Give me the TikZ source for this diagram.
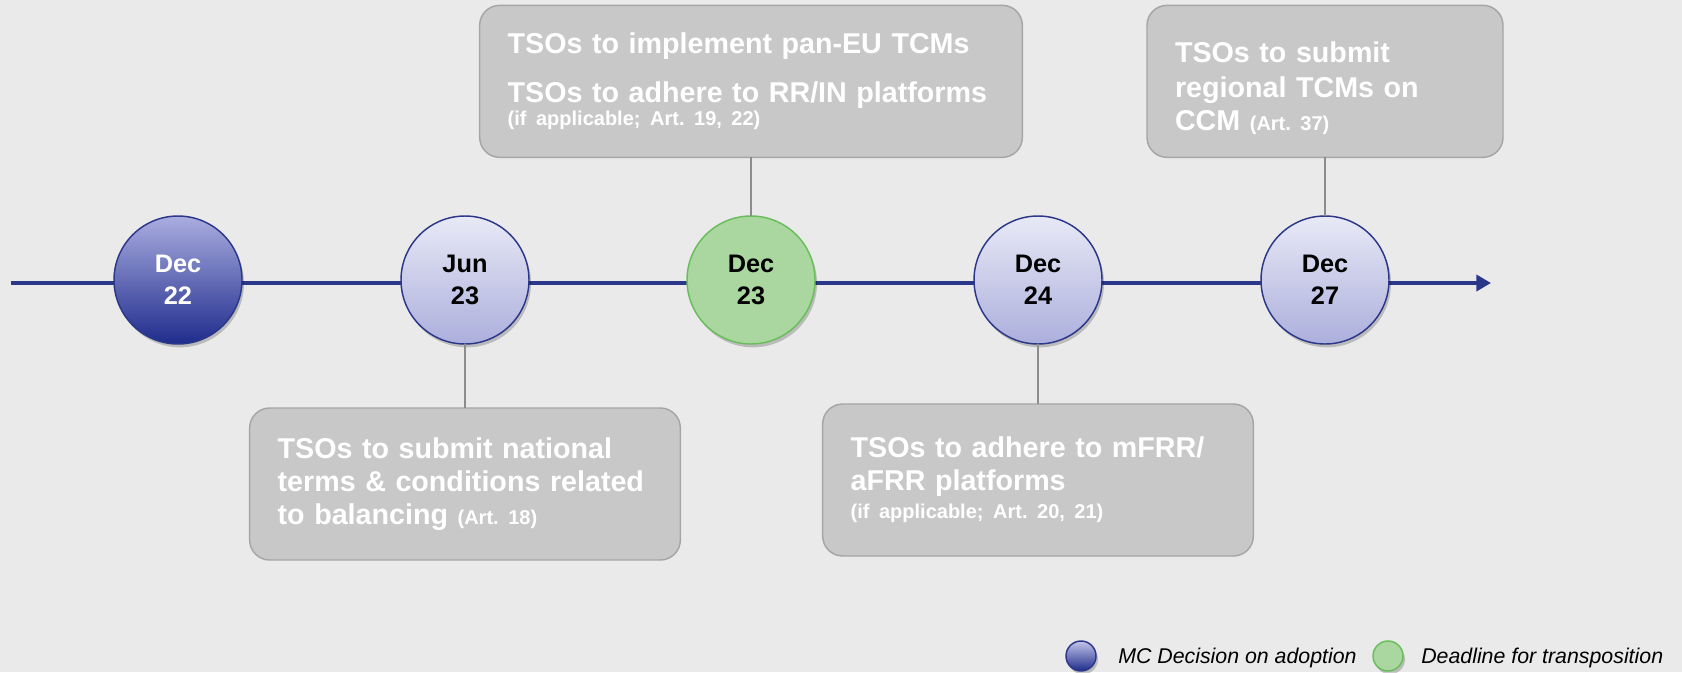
\documentclass[tikz,border=0pt]{standalone}
\usepackage{fontspec}
\setmainfont{Liberation Sans}
\usetikzlibrary{arrows.meta,positioning,shadows}
\frenchspacing

\definecolor{bggrey}{HTML}{EAEAEA}
\definecolor{boxfill}{HTML}{C8C8C8}
\definecolor{boxline}{HTML}{A6A6A6}
\definecolor{navy}{HTML}{2B3788}
\definecolor{mctop}{HTML}{E8E9F6}
\definecolor{mcbot}{HTML}{ACAFDC}
\definecolor{darktop}{HTML}{AAADE0}
\definecolor{darkbot}{HTML}{1F2C8C}
\definecolor{dlfill}{HTML}{AAD6A0}
\definecolor{dlline}{HTML}{6ABD5B}
\definecolor{conngrey}{HTML}{8C8C8C}

\tikzset{
  softshadow/.style={drop shadow={shadow xshift=1.5pt, shadow yshift=-2.5pt, opacity=0.2, fill=black}},
  datecirc/.style={circle, minimum size=96pt, inner sep=0pt, outer sep=0pt,
    draw=navy, line width=1.1pt, align=center, softshadow,
    font=\fontsize{19}{24}\selectfont\bfseries},
  mcdate/.style={datecirc, top color=mctop, bottom color=mcbot},
  mcfirst/.style={datecirc, top color=darktop, bottom color=darkbot, text=white},
  deadline/.style={datecirc, draw=dlline, fill=dlfill},
  taskbox/.style={rectangle, rounded corners=15pt, draw=boxline, line width=1.1pt,
    fill=boxfill, text=white, align=left, inner xsep=21pt, inner ysep=0pt,
    outer sep=0pt, minimum height=114pt,
    font=\fontsize{21.5}{25}\selectfont\bfseries},
  conn/.style={draw=conngrey, line width=1.1pt},
  timeline/.style={draw=navy, line width=3.5pt, -{Triangle[length=11pt,width=12pt]}},
  legcirc/.style={circle, minimum size=22.5pt, inner sep=0pt, outer sep=0pt, line width=1.1pt, softshadow},
  legtext/.style={font=\fontsize{16}{19}\selectfont\itshape, text=black, inner sep=0pt}
}
\newcommand{\artnote}[1]{{\fontsize{15}{18}\selectfont #1}}

\begin{document}
\begin{tikzpicture}[x=0.75pt, y=-0.75pt]
    \useasboundingbox (0,0) rectangle (1682,672);
    \fill[bggrey] (0,0) rectangle (1682,672);

    % time axis
    \coordinate (tstart) at (11,283);
    \coordinate (tend) at (1491,283);
    \draw[timeline] (tstart) -- (tend);

    % milestones
    \node[mcfirst]  (d22) at (178,280)  {Dec\\22};
    \node[mcdate]   (j23) at (465,280)  {Jun\\23};
    \node[deadline] (d23) at (751,280)  {Dec\\23};
    \node[mcdate]   (d24) at (1038,280) {Dec\\24};
    \node[mcdate]   (d27) at (1325,280) {Dec\\27};

    % tasks above the axis
    \node[taskbox, text width=365pt, above=44pt of d23] (b23) {TSOs to implement pan-EU TCMs\\[12pt]
      TSOs to adhere to RR/IN platforms\\[-8pt]
      \artnote{(if applicable; Art. 19, 22)}};
    \node[taskbox, text width=225pt, above=44pt of d27] (b27) {\rule{0pt}{26pt}TSOs to submit\\[1pt]
      regional TCMs on\\[0pt]
      CCM \artnote{(Art. 37)}};

    % tasks below the axis
    \node[taskbox, text width=281pt, below=48pt of j23] (bj23) {TSOs to submit national\\
      terms \& conditions related\\
      to balancing \artnote{(Art. 18)}};
    \node[taskbox, text width=281pt, below=45pt of d24] (b24) {TSOs to adhere to mFRR/\\
      aFRR platforms\\[-4pt]
      \artnote{(if applicable; Art. 20, 21)}};

    \draw[conn] (d23) -- (b23);
    \draw[conn] (d27) -- (b27);
    \draw[conn] (j23) -- (bj23);
    \draw[conn] (d24) -- (b24);

    % legend
    \node[legcirc, draw=navy, top color=darktop!60!mctop, bottom color=darkbot] (leg1) at (1081,656) {};
    \node[legtext, anchor=base west] (leg1t) at (1118,663) {MC Decision on adoption};
    \node[legcirc, draw=dlline, fill=dlfill] (leg2) at (1388,656) {};
    \node[legtext, anchor=base west] (leg2t) at (1421,663) {Deadline for transposition};
\end{tikzpicture}
\end{document}
